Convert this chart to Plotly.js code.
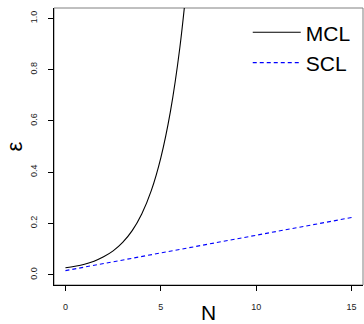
<!DOCTYPE html>
<html>
<head>
<meta charset="utf-8">
<script src="https://cdn.plot.ly/plotly-3.0.1.min.js"></script>
<style>html,body{margin:0;padding:0;background:#fff;}#chart{width:364px;height:324px;}</style>
</head>
<body>
<div id="chart"></div>
<script>
// MCL curve, values
const mclN = [0, 0.5, 1, 1.5, 2, 2.5, 3, 3.5, 4, 4.5, 5, 5.5, 6, 6.5];
const mclEps = [0.027, 0.033, 0.041, 0.053, 0.070, 0.093, 0.126, 0.172, 0.237, 0.328, 0.456, 0.635, 0.887, 1.24];
// SCL line, values
const sclN = [0, 5, 10, 15];
const sclEps = [0.016, 0.085, 0.154, 0.223];
const xTicks = [0, 5, 10, 15];
const yTicks = [0.0, 0.2, 0.4, 0.6, 0.8, 1.0];
const seriesNames = ['MCL', 'SCL'];

const FONT = 'Liberation Sans, Arial, Helvetica, sans-serif';

const traces = [
  {x: mclN, y: mclEps, name: seriesNames[0], mode: 'lines', type: 'scatter',
   line: {color: '#000000', width: 1.1, shape: 'spline'}},
  {x: sclN, y: sclEps, name: seriesNames[1], mode: 'lines', type: 'scatter',
   line: {color: '#0000ff', width: 1.1, dash: '4px,3px'}}
];

const layout = {
  width: 364, height: 324,
  margin: {l: 54, r: 1, t: 8, b: 39, pad: 0},
  paper_bgcolor: '#ffffff', plot_bgcolor: '#ffffff',
  font: {family: FONT, color: '#000'},
  showlegend: true,
  legend: {x: 0.627, y: 0.985, xanchor: 'left', yanchor: 'top',
    bgcolor: 'rgba(0,0,0,0)', borderwidth: 0, itemwidth: 48,
    font: {family: FONT, size: 21, color: '#000'}},
  xaxis: {range: [-0.6, 15.6], tickvals: xTicks, ticktext: xTicks.map(String),
    showgrid: false, zeroline: false, showline: true, linecolor: '#000', linewidth: 1,
    ticks: 'outside', ticklen: 5, tickcolor: '#000', tickwidth: 1,
    ticklabelstandoff: 8,
    tickfont: {family: FONT, size: 9, color: '#222'},
    title: {text: 'N', font: {family: FONT, size: 21, color: '#000'}, standoff: 15}},
  yaxis: {range: [-0.04, 1.04], tickvals: yTicks, ticktext: yTicks.map(v => v.toFixed(1)),
    showgrid: false, zeroline: false, showline: true, linecolor: '#000', linewidth: 1,
    ticks: 'outside', ticklen: 5, tickcolor: '#000', tickwidth: 1, tickangle: -90,
    ticklabelstandoff: 7,
    tickfont: {family: FONT, size: 9, color: '#222'},
    title: {text: 'ε', font: {family: FONT, size: 22, color: '#000'}, standoff: 0}},
  shapes: [{type: 'rect', xref: 'paper', yref: 'paper', x0: 0, x1: 1, y0: 0, y1: 1,
    line: {color: '#808080', width: 1}, layer: 'below'}]
};

Plotly.newPlot('chart', traces, layout, {staticPlot: true, displayModeBar: false});
</script>
</body>
</html>
